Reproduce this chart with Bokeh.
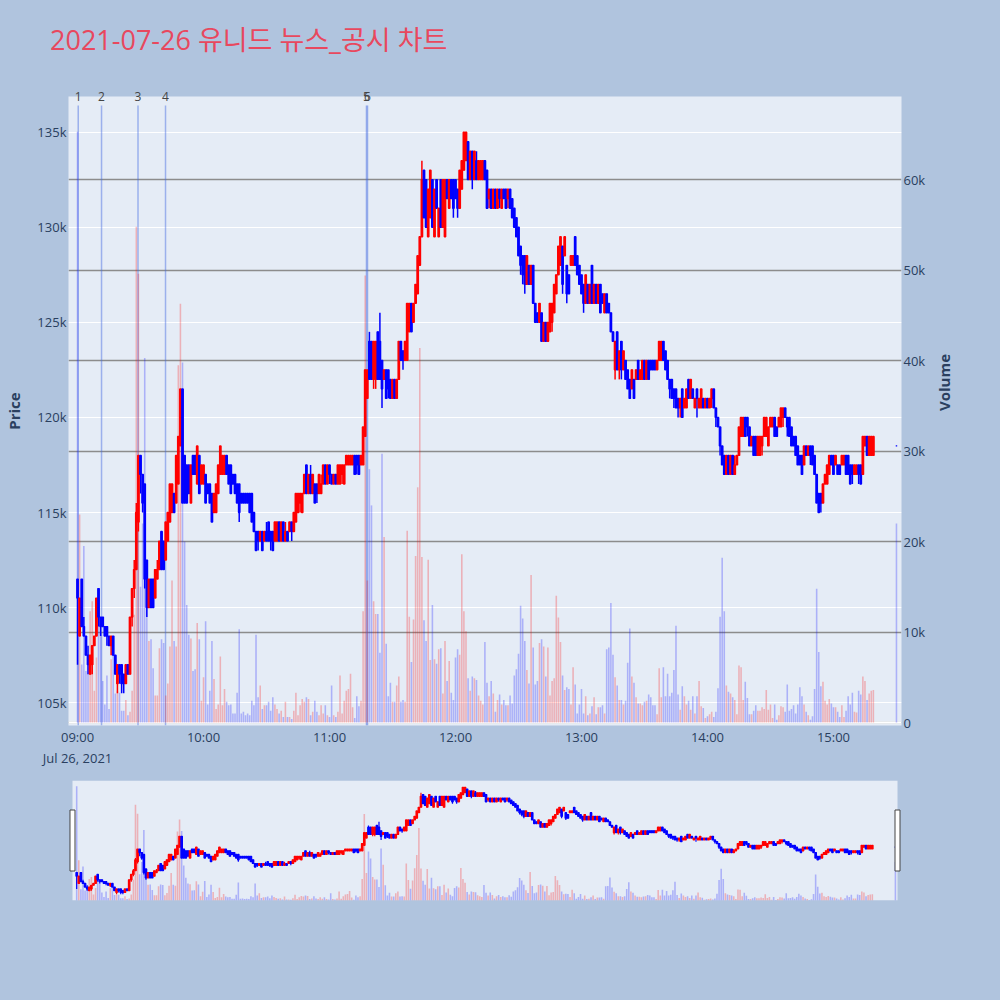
import math
import numpy as np
import pandas as pd
from bokeh.plotting import figure
from bokeh.layouts import column
from bokeh.models import (ColumnDataSource, Range1d, LinearAxis, FixedTicker, NumeralTickFormatter,
                          DatetimeTickFormatter, Grid, Span, Div)
from bokeh.embed import file_html
from bokeh.resources import INLINE

title_text = "2021-07-26 유니드 뉴스_공시 차트"
session_open = "2021-07-26 09:00"
n_minutes = 380
closing_auction = "2021-07-26 15:30"

# 1-minute candles, prices in thousand won
open_k = [
    111.5,108.5,111.5,109,108.5,107.5,106.5,107,108,108.5,
    111,109.5,109.5,109,109,108.5,108,108.5,107.5,106,
    107,107,106.5,106,107,106.5,109.5,111,112,114.5,
    118,117,116.5,112.5,110,111.5,111.5,110.5,111.5,112,
    114,113.5,112.5,113.5,114.5,115,116,115.5,116.5,118.5,
    121.5,118,117.5,117.5,115.5,118,118,116.5,118,116.5,
    116.5,117,116.5,116.5,116,115,115,116,117,117,
    117,118,117.5,117.5,117,117,116.5,116.5,116,116,
    116,116,116,116,115,114,114,113.5,114,113.5,
    114,114.5,114,114,113.5,113.5,114.5,113.5,114.5,113.5,
    114,114,114.5,114,114.5,115,115.5,115,116,117.5,
    116,117,116,116.5,116.5,116,116,116.5,117.5,116.5,
    117.5,117,116.5,117,116.5,116.5,117,116.5,117.5,117.5,
    117.5,117.5,118,118,118,117.5,117.5,119,121,124,
    124,122,122,124.5,124,123,122,122.5,122.5,122,
    121,122,121,122,124,123.5,123,123,124.5,126,
    125,126,126.5,128,129.5,133,132.5,129.5,130.5,132.5,
    129.5,132.5,129.5,132.5,130,129.5,132.5,131,132.5,132.5,
    132.5,132,131,132,133,133.5,134.5,132.5,134,132.5,
    133.5,132.5,132.5,132.5,133.5,133,131.5,132,131,132,
    131,132,131,132,132,131.5,132,131.5,131,130.5,
    130,129,128.5,128.5,127,128,127,128,126,125.5,
    125,125.5,124,125,124,124.5,125,125.5,126.5,127.5,
    128,129,128.5,128,127.5,128,128,129.5,128.5,128,
    127.5,127,126,127,126,128,126,127,126,127,
    126.5,125.5,126.5,126,125.5,124.5,122.5,124.5,122.5,124,
    122.5,123,122.5,122,121.5,122,122,123,122,122,
    123,122,123,123,123,123,122.5,123,123,124,
    123.5,123,122,122,121.5,121.5,121,120.5,121.5,120.5,
    120.5,122,121,121.5,120.5,121.5,120.5,120.5,121,120.5,
    121,120.5,121,121.5,120.5,120,119.5,118.5,118,117,
    118,117,118,117,117.5,118,119,119,120,120,
    119.5,118.5,119,119,118,118,118.5,119,119,118.5,
    119.5,119.5,120,119.5,119.5,119.5,120,120.5,120,120,
    119.5,119,119,118.5,118,118,117.5,118.5,118,118.5,
    118.5,118,117,116,116,115.5,116.5,116.5,117,118,
    118,117.5,117.5,117.5,117.5,117.5,118,118,117.5,117.5,
    117,117,117.5,117.5,117,118.5,119,118,118,118,
    118.5,
]
high_k = [
    111.5,110.5,111.5,109.5,108.5,108,107.5,108,108.5,110.5,
    111,109.5,109.5,109,109,108.5,108.5,108.5,107.5,107,
    107,107,106.5,107,107,109.5,111,112.5,115.5,118,
    118,117,116.5,112.5,111.5,111.5,111.5,112,112.5,113.5,
    114,113.5,114.5,115,116.5,116.5,116,118,119,121.5,
    121.5,118,117.5,117.5,117.5,118,118,118.5,118,117.5,
    117.5,117,116.5,116.5,116,116,116.5,117.5,118.5,118,
    118,118,117.5,117.5,117,117,116.5,116.5,116,116,
    116,116,116,116,115,114,114,114,114,114,
    114.5,114.5,114,114,114.5,114.5,114.5,114.5,114.5,114.5,
    114,114.5,114.5,115,116,116,116,116,117,117.5,
    117,117.5,117,116.5,116.5,117,117,117.5,117.5,117.5,
    117.5,117,117,117,117.5,117.5,117.5,117.5,118,118,
    118,118,118,118,118,118,119.5,122.5,122.5,124.5,
    124,124,124,124.5,125.5,123,122.5,122.5,122.5,122,
    122,122,122,124,124,123.5,124,126,126,126,
    126,127,128.5,129.5,133.5,133,132.5,132,133,132.5,
    132,132.5,131,132.5,132.5,132.5,132.5,132.5,132.5,132.5,
    132.5,132,133,133.5,135,135,134.5,134,134,134,
    134,133.5,133.5,133.5,133.5,133,132,132,132,132,
    132,132,132,132,132,132,132,131.5,131,130.5,
    130,129,128.5,128.5,128.5,128,128,128,126,125.5,
    126,125.5,125,125,125,126,126,127,127.5,129,
    129.5,129,129.5,128,127.5,128.5,128.5,129.5,128.5,128,
    127.5,127,127.5,127,127,128,127,127,127,127,
    126.5,126.5,126.5,126,125.5,124.5,124,124.5,123.5,124,
    123.5,123,122.5,122,122.5,122,122.5,123,122.5,123,
    123,123,123,123,123,123,123,124,124,124,
    123.5,123,122,122,121.5,121.5,121,121,121.5,121,
    121.5,122,122,121.5,121,121.5,121,121.5,121,121,
    121,121,121.5,121.5,120.5,120,119.5,118.5,118,118,
    118,118,118,118,118,119.5,120,120,120,120,
    119.5,119,119,119,119,119,119,120,120,119.5,
    120,120,120,119.5,120,120.5,120.5,120.5,120,120,
    119.5,119,119,118.5,118,118,118.5,118.5,118.5,118.5,
    118.5,118,117,116,116,116.5,117,117.5,118,118,
    118,118,117.5,117.5,118,118,118,118,117.5,117.5,
    117.5,117.5,117.5,117.5,119,119,119,119,119,119,
    118.5,
]
low_k = [
    107,108.5,109,108.5,107.5,106.5,106.5,106.5,108,108.5,
    109,108.5,109,108.5,108,108,107.5,107.5,106.5,105.5,
    106,105.5,105.5,106,106.5,106.5,109,110.5,112,114,
    116,115,111,109.5,110,110,110,110.5,111.5,112,
    112,112,112.5,113.5,114.5,115,115,115.5,116.5,118.5,
    115.5,115.5,115.5,116,115.5,117,117,116.5,116,116.5,
    116.5,115.5,116,115.5,114.5,115,115,116,117,117,
    117,117,116.5,116,116.5,116,115.5,114.5,115.5,115.5,
    115.5,115.5,115,114.5,114,113,113,113.5,113,113.5,
    113.5,113.5,113,113,113.5,113.5,113.5,113.5,113.5,113.5,
    113.5,114,113.5,114,114.5,115,115,115,116,116,
    116,116,116,115.5,115.5,116,116,116.5,116.5,116.5,
    116.5,116.5,116.5,116.5,116.5,116.5,116.5,116.5,117.5,117.5,
    117.5,117.5,117,117,117,117.5,117.5,119,121,122,
    122,121.5,121.5,122,122,120.5,122,121,121,121,
    121,121,121,122,123,122.5,123,123,124.5,124.5,
    125,126,126.5,128,129.5,130.5,130,129.5,130.5,130,
    129.5,131,129.5,130,130,129.5,131.5,131,131.5,130.5,
    131.5,130.5,131,132,133,133.5,132.5,132.5,132,132.5,
    132.5,132.5,132.5,132.5,132.5,131,131,131,131,131,
    131,131,131,131.5,131,131,131,130.5,130,129.5,
    128.5,127.5,127,126.5,127,127,127,126,125,125,
    125,124,124,124,124,124.5,124.5,125.5,126.5,127.5,
    128,126.5,128.5,126,126.5,128,128,128,127.5,127,
    126.5,125.5,126,126,126,126,126,126,126,125.5,
    126,125.5,125.5,125.5,124.5,124,122,122.5,122,122,
    122.5,122,121.5,121,121.5,121,122,122,122,122,
    122,122,122,122.5,122.5,122.5,122.5,123,123,123,
    122.5,122,121,121,120.5,120.5,120,120,120,120.5,
    120.5,121,121,121,120.5,120,120.5,120.5,120.5,120.5,
    120.5,120.5,120.5,120.5,119.5,119.5,118,117.5,117,117,
    117,117,117,117,117.5,118,119,119,119,119,
    118.5,118.5,118,118,118,118,118,119,119,118.5,
    119.5,119.5,119,119,119.5,119.5,119.5,120,119,119,
    118.5,118.5,118,117.5,117.5,117,117.5,118,118,117.5,
    117.5,117,115.5,115,115,115.5,116.5,116.5,117,117.5,
    117,117.5,117,117,117.5,117.5,117,117,116.5,116.5,
    117,117,116.5,116.5,117,118.5,118,118,118,118,
    118.5,
]
close_k = [
    110.5,110.5,109,108.5,107.5,107,107.5,108,108.5,110.5,
    109.5,109,109,108.5,108.5,108,108.5,107.5,106.5,107,
    106.5,106,106,107,106.5,109.5,111,112,115,118,
    117,115.5,111.5,110,111.5,110,110,112,112,113.5,
    112,112,114.5,115,116.5,116.5,115,118,119,121.5,
    115.5,115.5,115.5,116,117.5,117,117,118.5,116,117.5,
    117.5,115.5,116,115.5,114.5,116,116.5,117.5,118.5,118,
    118,117,116.5,116,116.5,116,115.5,115,115.5,115.5,
    115.5,115.5,115,114.5,114,113,113.5,114,113,114,
    113.5,113.5,113.5,113,114.5,114.5,113.5,114.5,113.5,114,
    113.5,114.5,114,115,116,116,116,116,117,116,
    117,116,117,115.5,116,117,116.5,117.5,116.5,117.5,
    117,116.5,117,116.5,117.5,117.5,117.5,117.5,118,118,
    118,118,117,117.5,117,118,119.5,122.5,122.5,122,
    122,124,124,122,122,121.5,122.5,121,121.5,121,
    122,121,122,124,123,123,124,126,126,124.5,
    126,127,128.5,129.5,132.5,130.5,130,132,133,130,
    132,131,131,130,132.5,132.5,131.5,132.5,131.5,131,
    131.5,131,133,133.5,135,135,132.5,134,132.5,134,
    132.5,133.5,133.5,133.5,132.5,131,132,131,132,131,
    132,131.5,132,131.5,131,132,131,130.5,130,129.5,
    128.5,128,127.5,127,128.5,127,128,126,125,125,
    126,124,125,124,125,126,126,127,127.5,129,
    129.5,127,129.5,126.5,126.5,128.5,128.5,128,127.5,127,
    126.5,126,127.5,126,127,126,127,126,127,125.5,
    126,126.5,125.5,125.5,124.5,124,124,122.5,123.5,122.5,
    123.5,122,121.5,121,122.5,121,122.5,122,122.5,123,
    122,123,122,122.5,122.5,122.5,123,124,124,123,
    122.5,122,121.5,121,121,120.5,120.5,121,120,121,
    121.5,121,122,121,121,121,121,121.5,120.5,121,
    120.5,121,121.5,120.5,120,119.5,118.5,117.5,117,118,
    117,118,117,117.5,118,119.5,120,120,119,119.5,
    118.5,119,118,118,119,119,119,120,120,119.5,
    120,120,119,119,120,120.5,120.5,120,119.5,119,
    118.5,118.5,118,117.5,117.5,117,118.5,118,118.5,118,
    117.5,117,115.5,115,115.5,116.5,117,117.5,118,117.5,
    117,118,117,117,118,118,117,117,116.5,117,
    117.5,117.5,117,116.5,119,119,118,119,119,119,
    118.5,
]
# traded volume per minute, thousand shares
volume_k = [
    65.3,23,6.4,19.5,5.7,7.2,12.3,13.4,3.5,7.2,
    10.8,10,4.6,2,5.2,1.5,7,7.5,3.2,3.5,
    3.3,1.3,1.3,2.5,0.8,1.2,3.5,11.9,54.8,49.6,
    15,22,40.3,18,9,9.2,6,3,3,8.2,
    9.2,8.8,3,4.3,8.4,15.7,9,8.4,39.5,46.3,
    39.8,20,13,9.7,9.3,5.7,5.9,11,9.2,2.4,
    5,11.2,2,3.5,9,4.8,1.5,2,7.3,1.9,
    3.7,2.3,1.9,2,1,1,3.3,10.3,1,1.2,
    0.8,1,0.8,2.4,1.9,9.7,2.8,4.1,1.5,1.9,
    1.9,2.3,1.3,2.8,2,1.5,1,1.3,0.6,2.3,
    0.6,0.6,0.4,1.3,3.3,0.8,1.9,2.6,2.3,2.8,
    2.6,0.8,1.2,2.4,1.2,0.8,1.9,1,1.9,0.8,
    0.6,4.1,0.8,0.6,1.2,5.2,1,2.4,3.5,3.7,
    5.4,1.7,0.5,2.9,1.8,2.4,12.3,49.4,15.7,28,
    24,13.4,12,12,7.7,29.7,20.5,8.7,2.9,4.4,
    2.3,2.3,4.1,5.1,2.3,2.5,2.3,21.2,11.7,6.7,
    11.4,18.4,26,41.4,18.3,11.3,9,18,6.9,13,
    7,6.5,8.1,8.2,3.2,9,4.6,6.8,3.3,2.5,
    7.2,8.1,7.5,18.6,12.3,10.1,4.9,3.5,5.1,4.9,
    4.7,3,2.4,2,8.9,4.4,2.9,4.6,3.2,1.2,
    2.5,3.1,2,2.5,1.9,1.9,3,2.1,5.2,5.9,
    7.6,12.9,11.5,9,5.8,4.3,16.3,8.3,4.2,4.6,
    8.8,9.2,8.4,5.1,8.3,3,4.6,4.9,14,11.6,
    8.9,5.2,3.6,3.9,3.7,2,6.1,4.2,1,2,
    3.7,1,2.9,0.8,1,1.8,2.8,0.9,1.7,1.7,
    1.9,1,8.1,8.3,13.2,7.5,5,4.1,2.5,2.5,
    2,2.4,6.6,10.4,5.1,4.4,2.8,2.1,2.1,1.9,
    2.3,2.4,3.1,2.8,1.9,1.9,0.9,6,2.8,6.1,
    2.9,5.4,2.9,3.3,5.8,10.7,3.1,1.4,4,2.9,
    2,2.4,1.4,2.9,1,2.9,4.6,1.8,1.6,0.5,
    0.7,0.9,1.2,0.6,1.2,3.8,11.7,18.2,12.3,4.1,
    3.4,3.2,2.8,2.5,0.9,6.3,6.1,2.5,4.5,2.7,
    0.9,0.9,1.3,1.9,1.3,1.3,1.7,1.5,3.6,1.4,
    2,0.5,2,0.3,0.8,1.8,1.7,1.2,4.2,1.3,
    1.5,1.9,1,2,3.9,2.9,2,1.2,0.8,0.3,
    0.7,3.7,14.8,7.8,4,4.5,2.4,2,2.6,2.1,
    1.7,1.7,1.2,0.6,1.9,0.6,1.3,2.9,2,3.3,
    1.2,1.1,3.5,3.1,5.1,4.6,2.5,3.2,3.5,3.6,
    22,
]

news_labels = ["1", "2", "3", "4", "5", "6"]
news_times = ["2021-07-26 09:00:20", "2021-07-26 09:11:26", "2021-07-26 09:28:48",
              "2021-07-26 09:41:54", "2021-07-26 11:17:36", "2021-07-26 11:18:06"]

hour_labels = ["09:00", "10:00", "11:00", "12:00", "13:00", "14:00", "15:00"]
price_ticks = [105000, 110000, 115000, 120000, 125000, 130000, 135000]
volume_ticks = [0, 10000, 20000, 30000, 40000, 50000, 60000]

# ---------------------------------------------------------------- styling
PAGE_BG = "#B0C4DE"
PLOT_BG = "#E5ECF6"
TXT = "#2a3f5f"
TITLE_COLOR = "#E8485E"
UP, DOWN = "#FF0000", "#0000FF"
FONT = "Open Sans"
MIN = 60_000  # one minute in ms
TITLE_H = 80

times = list(pd.date_range(session_open, periods=n_minutes, freq="min")) + [pd.Timestamp(closing_auction)]
for arr in (open_k, high_k, low_k, close_k, volume_k):
    assert len(arr) == len(times), len(arr)

o = np.array(open_k) * 1000
h = np.array(high_k) * 1000
l = np.array(low_k) * 1000
c = np.array(close_k) * 1000
v = np.array(volume_k) * 1000
col = np.where(c > o, UP, DOWN)

src = ColumnDataSource(dict(time=times, open=o, high=h, low=l, close=c, volume=v, color=col))

price_lo, price_hi = 103800, 136875
day = pd.Timestamp(session_open)
to_ms = lambda ts: pd.Timestamp(ts).value // 10**6
main_x = Range1d(day - pd.Timedelta(seconds=258), day + pd.Timedelta(minutes=392, seconds=24))

title_div = Div(text=title_text, width=1000, height=TITLE_H, margin=(0, 0, 0, 0),
                styles={"background-color": PAGE_BG, "color": TITLE_COLOR,
                        "font-family": "'Open Sans', 'Noto Sans CJK KR', sans-serif",
                        "font-size": "27px", "line-height": f"{TITLE_H}px",
                        "padding-left": "50px", "box-sizing": "border-box",
                        "white-space": "nowrap", "overflow": "hidden"})

p = figure(width=1000, height=770 - TITLE_H + 1, x_axis_type="datetime", x_range=main_x,
           y_range=Range1d(price_lo, price_hi), output_backend="svg", toolbar_location=None,
           title=None,
           min_border_left=68, min_border_right=99, min_border_top=96 - TITLE_H + 1, min_border_bottom=39)
p.margin = (-1, 0, 0, 0)
p.extra_y_ranges = {"vol": Range1d(-330, 69200)}
p.background_fill_color = PLOT_BG
p.border_fill_color = PAGE_BG
p.outline_line_color = None


def style_axis(ax, size="13px"):
    ax.axis_line_color = None
    ax.major_tick_line_color = None
    ax.minor_tick_line_color = None
    ax.major_tick_out = 0
    ax.major_tick_in = 0
    ax.minor_tick_out = 0
    ax.major_label_text_color = TXT
    ax.major_label_text_font = FONT
    ax.major_label_text_font_size = size
    ax.axis_label_text_color = TXT
    ax.axis_label_text_font = FONT
    ax.axis_label_text_font_size = "15px"
    ax.axis_label_text_font_style = "bold"


xa = p.xaxis[0]
xa.ticker = FixedTicker(ticks=[to_ms(f"2021-07-26 {hh}") for hh in hour_labels])
xa.formatter = DatetimeTickFormatter(
    hours="%H:%M", hourmin="%H:%M", minutes="%H:%M",
    context=DatetimeTickFormatter(hours="%b %d, %Y", hourmin="%b %d, %Y", minutes="%b %d, %Y"),
    context_which="start")
style_axis(xa)
xa.major_label_standoff = 2

ya = p.yaxis[0]
ya.ticker = FixedTicker(ticks=price_ticks)
ya.formatter = NumeralTickFormatter(format="0a")
ya.axis_label = "Price"
style_axis(ya)
ya.major_label_standoff = 2
ya.axis_label_standoff = 10

va = LinearAxis(y_range_name="vol", ticker=FixedTicker(ticks=volume_ticks),
                formatter=NumeralTickFormatter(format="0a"), axis_label="Volume")
style_axis(va)
va.major_label_standoff = 2
va.axis_label_standoff = 16
if "axis_label_orientation" in va.properties():
    va.axis_label_orientation = math.pi / 2
p.add_layout(va, "right")

# news / disclosure numbers as an axis along the top edge
news_ms = [to_ms(t) for t in news_times]
na = LinearAxis(ticker=FixedTicker(ticks=news_ms),
                major_label_overrides={t: lab for t, lab in zip(news_ms, news_labels)})
style_axis(na, size="12px")
na.major_label_text_color = "#444444"
na.major_label_standoff = -4
p.add_layout(na, "above")

p.xgrid.visible = False
p.ygrid.grid_line_color = "white"
p.ygrid.grid_line_width = 1
vgrid = Grid(dimension=1, axis=va, y_range_name="vol", grid_line_color="#8c8c8c", grid_line_width=1.3)
p.add_layout(vgrid)
p.add_layout(Span(location=0, dimension="width", y_range_name="vol", line_color="white",
                  line_width=2, level="underlay"))

news_src = ColumnDataSource(dict(time=[pd.Timestamp(t) for t in news_times], label=news_labels))
p.segment(x0="time", x1="time", y0=price_lo, y1=136400, source=news_src,
          line_color="#4169E1", line_alpha=0.45, line_width=1.5)

# volume bars then candles
p.vbar(x="time", top="volume", bottom=0, width=0.75 * MIN, source=src, y_range_name="vol",
       fill_color="color", line_color=None, fill_alpha=0.25)
p.segment(x0="time", x1="time", y0="high", y1="low", source=src, line_color="color", line_width=1.5)
p.vbar(x="time", top="open", bottom="close", width=0.7 * MIN, source=src,
       fill_color="color", line_color="color", line_width=1.3)

# ---------------------------------------------------------------- range slider
slider_lo = day - pd.Timedelta(minutes=2)
slider_hi = day + pd.Timedelta(minutes=391)
pad = pd.Timedelta(seconds=114)
s = figure(width=1000, height=231, x_axis_type="datetime",
           x_range=Range1d(slider_lo - pad, slider_hi + pad),
           y_range=Range1d(price_lo, price_hi), output_backend="svg", toolbar_location=None,
           x_axis_location=None, y_axis_location=None,
           min_border_left=68, min_border_right=99, min_border_top=11, min_border_bottom=100)
s.margin = (-1, 0, 0, 0)
s.extra_y_ranges = {"vol": Range1d(0, 68600)}
s.background_fill_color = PAGE_BG
s.border_fill_color = PAGE_BG
s.outline_line_color = None
s.grid.visible = False
s.quad(left=[slider_lo], right=[slider_hi], bottom=[price_lo], top=[price_hi],
       fill_color=PLOT_BG, line_color=None)
s.vbar(x="time", top="volume", bottom=0, width=0.75 * MIN, source=src, y_range_name="vol",
       fill_color="color", line_color=None, fill_alpha=0.25)
s.segment(x0="time", x1="time", y0="high", y1="low", source=src, line_color="color", line_width=1.2)
s.vbar(x="time", top="open", bottom="close", width=0.7 * MIN, source=src,
       fill_color="color", line_color="color", line_width=1.2)
s.rect(x=[slider_lo, slider_hi], y=[(price_lo + price_hi) / 2] * 2, width=5, height=61,
       width_units="screen", height_units="screen", fill_color="white",
       line_color="#444444", line_width=1)

layout = column(title_div, p, s, spacing=0, styles={"background-color": PAGE_BG})
open("out.html", "w").write(file_html(layout, INLINE))
